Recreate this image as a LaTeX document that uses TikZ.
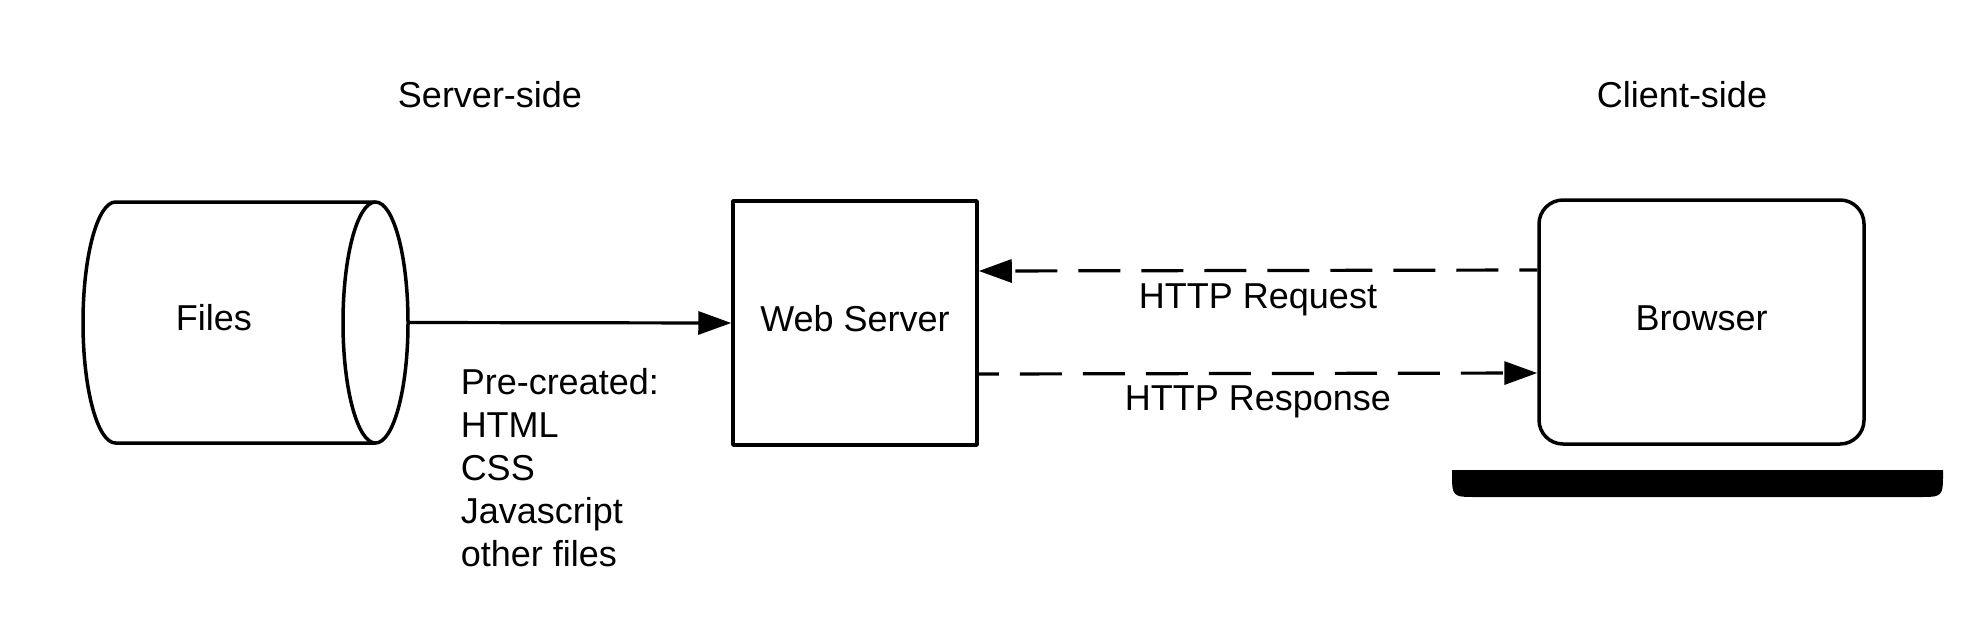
\documentclass[tikz,border=0pt]{standalone}
\usepackage{fontspec}
\setmainfont{Liberation Sans}
\usetikzlibrary{arrows.meta}
\begin{document}
\begin{tikzpicture}[x=0.5pt,y=-0.5pt, line width=1.75pt, line join=round,
  txt/.style={font=\fontsize{18pt}{21.5pt}\selectfont, inner sep=0pt},
  box/.style={draw, line width=1.75pt, inner sep=0pt, font=\fontsize{18pt}{21.5pt}\selectfont, text height=12pt, text depth=3.5pt},
  link/.style={line width=1.6pt, -{Triangle[length=16.5pt,width=11.5pt]}},
  dashlink/.style={link, dash pattern=on 21pt off 10.5pt}]
\fill[white] (0,0) rectangle (1984,632);
\useasboundingbox (0,0) rectangle (1984,632);

% titles
\node[txt, anchor=base] (srv) at (490,107) {Server-side};
\node[txt, anchor=base] (cli) at (1682,107) {Client-side};

% cylinder "Files"
\node[minimum width=162.5pt, minimum height=120.5pt, inner sep=0pt, outer sep=0pt] (files) at (245.5,322.5) {};
\draw (375.5,202) -- (115.5,202) arc[start angle=90, end angle=270, x radius=16.25pt, y radius=60.25pt] -- (375.5,443);
\draw (375.5,322.5) ellipse [x radius=16.25pt, y radius=60.25pt];
\node[txt, anchor=base] (fileslbl) at (214,330) {Files};

% web server
\node[box, minimum width=122pt, minimum height=122pt] (web) at (855,323) {Web Server};

% browser
\node[box, rounded corners=12pt, minimum width=162.5pt, minimum height=122pt] (browser) at (1701.5,322) {Browser};
\fill (1452,470) -- (1943,470) -- (1943,472) .. controls (1943,497) .. (1918,497) -- (1477,497) .. controls (1452,497) .. (1452,472) -- cycle;

% connectors
\draw[link] (files.east) -- (web.west);
\draw[dashlink, dash phase=12pt] ([yshift=26pt]browser.west) -- ([yshift=26pt]web.east);
\draw[dashlink, dash phase=11pt] ([yshift=-25.5pt]web.east) -- ([yshift=-25.5pt]browser.west);

\node[txt, anchor=base] (req) at (1258,308) {HTTP Request};
\node[txt, anchor=base] (resp) at (1258,410) {HTTP Response};

\node[txt, anchor=north west, align=left] (list) at (459,367) {Pre-created:\\HTML\\CSS\\Javascript\\other files};
\end{tikzpicture}
\end{document}
